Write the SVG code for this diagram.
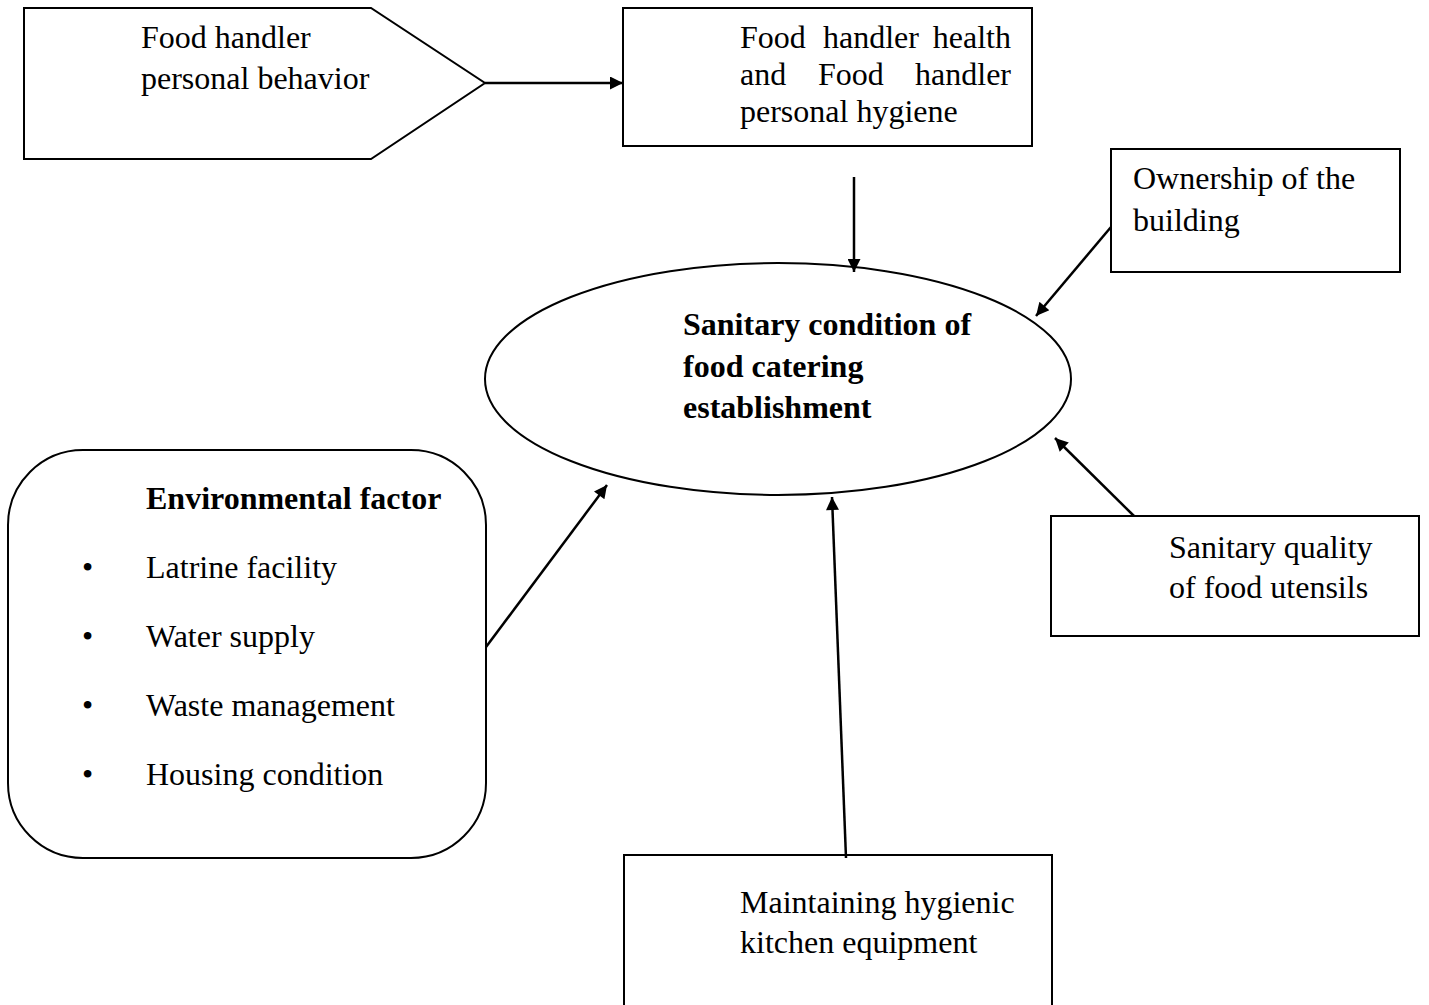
<svg xmlns="http://www.w3.org/2000/svg" width="1429" height="1005" viewBox="0 0 1429 1005">
<style>
.s{fill:#fff;stroke:#000;stroke-width:2}
.t{font-family:"Liberation Serif","Times New Roman",serif;font-size:32px;fill:#000}
.b{font-weight:bold}
.e{text-anchor:end}
.c{stroke:#000;stroke-width:2.5;fill:none;marker-end:url(#ah)}
</style>
<defs>
<marker id="ah" viewBox="0 0 10 10" refX="10" refY="5" markerWidth="15" markerHeight="13" markerUnits="userSpaceOnUse" orient="auto">
<path d="M0,0 L10,5 L0,10 z" fill="#000"/>
</marker>
</defs>
<rect width="1429" height="1005" fill="#fff"/>
<g id="behavior">
<polygon class="s" points="24,8 371,8 485,83 371,159 24,159"/>
<text class="t" x="141" y="48">Food handler</text>
<text class="t" x="141" y="89">personal behavior</text>
</g>
<g id="health">
<rect class="s" x="623" y="8" width="409" height="138"/>
<text class="t" x="740" y="48">Food<tspan x="823">handler</tspan><tspan x="1011" class="e">health</tspan></text>
<text class="t" x="740" y="85">and<tspan x="818">Food</tspan><tspan x="1011" class="e">handler</tspan></text>
<text class="t" x="740" y="122">personal hygiene</text>
</g>
<g id="center">
<ellipse class="s" cx="778" cy="379" rx="293" ry="116"/>
<text class="t b" x="683" y="335">Sanitary condition of</text>
<text class="t b" x="683" y="377">food catering</text>
<text class="t b" x="683" y="418">establishment</text>
</g>
<g id="ownership">
<rect class="s" x="1111" y="149" width="289" height="123"/>
<text class="t" x="1133" y="189">Ownership of the</text>
<text class="t" x="1133" y="231">building</text>
</g>
<g id="utensils">
<rect class="s" x="1051" y="516" width="368" height="120"/>
<text class="t" x="1169" y="558">Sanitary quality</text>
<text class="t" x="1169" y="598">of food utensils</text>
</g>
<g id="environment">
<rect class="s" x="8" y="450" width="478" height="408" rx="75" ry="75"/>
<text class="t b" x="146" y="509">Environmental factor</text>
<text class="t" x="82" y="578">•</text><text class="t" x="146" y="578">Latrine facility</text>
<text class="t" x="82" y="647">•</text><text class="t" x="146" y="647">Water supply</text>
<text class="t" x="82" y="716">•</text><text class="t" x="146" y="716">Waste management</text>
<text class="t" x="82" y="785">•</text><text class="t" x="146" y="785">Housing condition</text>
</g>
<g id="kitchen">
<rect class="s" x="624" y="855" width="428" height="160"/>
<text class="t" x="740" y="913">Maintaining hygienic</text>
<text class="t" x="740" y="953">kitchen equipment</text>
</g>
<g id="connectors">
<line class="c" x1="485" y1="83" x2="623" y2="83"/>
<line class="c" x1="854" y1="177" x2="854" y2="272"/>
<line class="c" x1="1111" y1="227" x2="1036" y2="316"/>
<line class="c" x1="1134" y1="516" x2="1055" y2="438"/>
<line class="c" x1="486" y1="647" x2="607" y2="485"/>
<line class="c" x1="846" y1="858" x2="832" y2="497"/>
</g>
</svg>
